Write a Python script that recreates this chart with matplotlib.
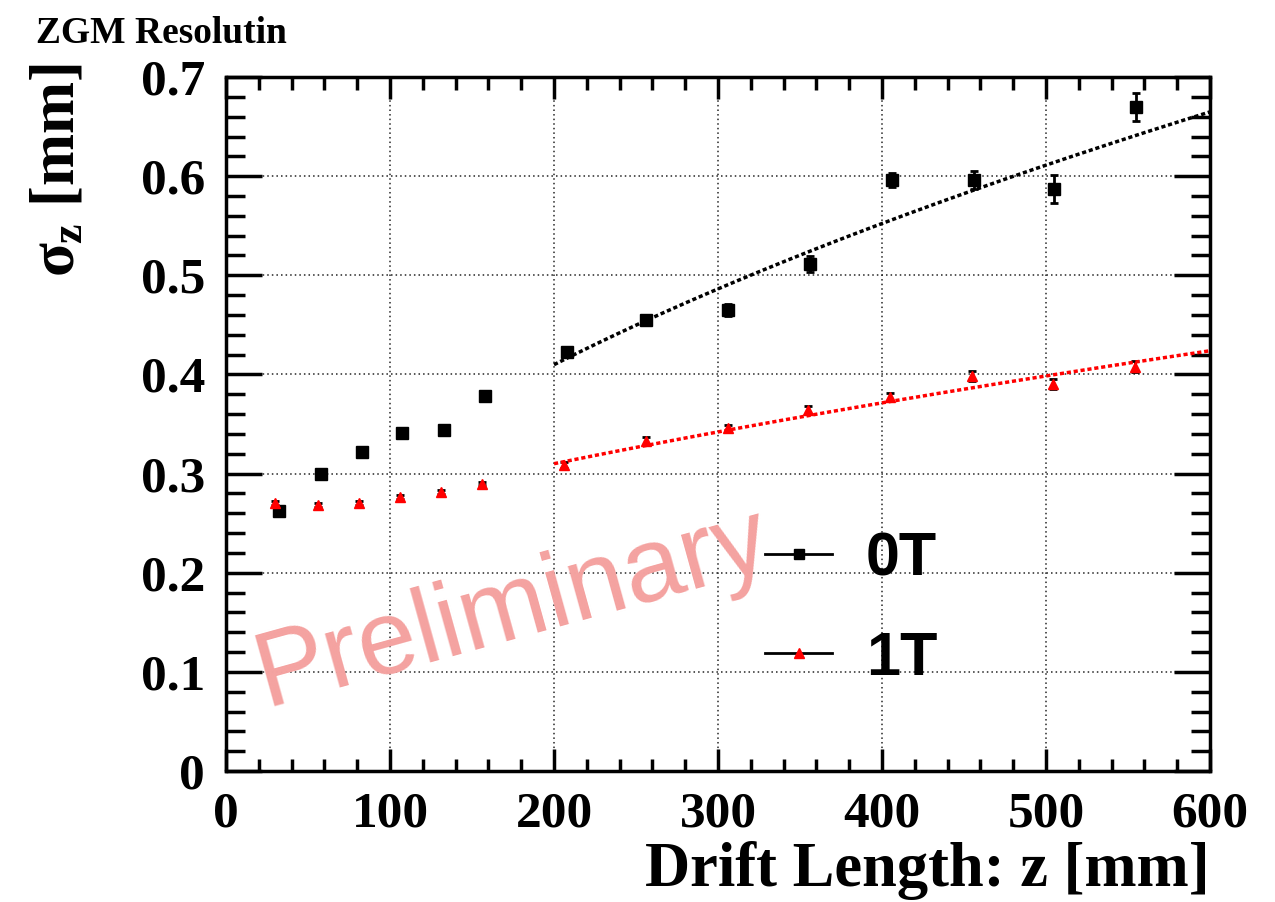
import numpy as np
import matplotlib
matplotlib.use("Agg")
import matplotlib.pyplot as plt
from matplotlib.lines import Line2D
from matplotlib.ticker import MultipleLocator

plt.rcParams['font.family'] = ['Liberation Serif', 'DejaVu Serif']
plt.rcParams['font.weight'] = 'bold'
plt.rcParams['mathtext.fontset'] = 'custom'
plt.rcParams['mathtext.rm'] = 'Liberation Serif:bold'
plt.rcParams['mathtext.it'] = 'Liberation Serif:bold'
plt.rcParams['mathtext.bf'] = 'Liberation Serif:bold'

# 0T (no field)
z_0T = [32, 58, 83, 107, 133, 158, 208, 256, 306, 356, 406, 456, 505, 555]
sig_0T = [0.262, 0.300, 0.322, 0.341, 0.344, 0.378, 0.423, 0.455, 0.465,
          0.511, 0.596, 0.596, 0.587, 0.670]
err_0T = [0.002, 0.002, 0.002, 0.002, 0.002, 0.003, 0.005, 0.005, 0.006,
          0.008, 0.007, 0.009, 0.014, 0.014]

# 1T
z_1T = [30, 56, 81, 106, 131, 156, 206, 256, 306, 355, 405, 455, 504, 554]
sig_1T = [0.270, 0.268, 0.270, 0.276, 0.281, 0.290, 0.309, 0.333, 0.346,
          0.364, 0.377, 0.398, 0.390, 0.408]
err_1T = [0.002, 0.002, 0.002, 0.002, 0.002, 0.002, 0.003, 0.004, 0.003,
          0.004, 0.004, 0.005, 0.005, 0.006]

# fit sigma^2 = s0^2 + D^2 * z, range 200-600 mm
fit_0T = (0.031, 6.85e-4)
fit_1T = (0.0543, 2.09e-4)
fit_range = (200, 600)

fig = plt.figure(figsize=(12.75, 9.02), dpi=100)
ax = fig.add_axes([0.1773, 0.1452, 0.7717, 0.7694])

ax.errorbar(z_0T, sig_0T, yerr=err_0T, fmt='s', color='black', ms=8,
            elinewidth=2, capsize=3, capthick=2)
ax.errorbar(z_1T, sig_1T, yerr=err_1T, fmt='^', color='red', ms=7,
            elinewidth=2, capsize=3, capthick=2, ecolor='black')

zz = np.linspace(fit_range[0], fit_range[1], 200)
ax.plot(zz, np.sqrt(fit_0T[0] + fit_0T[1] * zz), color='black', lw=2.5,
        ls=(0, (1.2, 0.8)))
ax.plot(zz, np.sqrt(fit_1T[0] + fit_1T[1] * zz), color='red', lw=2.5,
        ls=(0, (1.2, 0.8)))

ax.set_xlim(0, 600)
ax.set_ylim(0, 0.7)
ax.xaxis.set_major_locator(MultipleLocator(100))
ax.xaxis.set_minor_locator(MultipleLocator(20))
ax.yaxis.set_major_locator(MultipleLocator(0.1))
ax.yaxis.set_minor_locator(MultipleLocator(0.02))
ax.yaxis.set_major_formatter(matplotlib.ticker.FuncFormatter(
    lambda v, p: '0' if abs(v) < 1e-9 else '%.1f' % v))

ax.grid(True, which='major', color='0.15', ls=(0, (1, 2)), lw=1.1)
ax.tick_params(which='both', direction='in', top=True, right=True,
               labelsize=37, width=2.5)
ax.tick_params(axis='x', which='major', length=16, pad=15)
ax.tick_params(axis='x', which='minor', length=9)
ax.tick_params(axis='y', which='major', length=26, pad=15)
ax.tick_params(axis='y', which='minor', length=14)
for s in ax.spines.values():
    s.set_linewidth(2.5)

ax.set_xlabel('Drift Length: z [mm]', fontsize=45, fontweight='bold',
              loc='right', labelpad=2)
ax.set_ylabel(r'$\sigma_z$ [mm]', fontsize=45, fontweight='bold', loc='top')
ax.yaxis.set_label_coords(-0.14, 1.02)

fig.text(0.028, 0.982, 'ZGM Resolutin', fontsize=27, fontweight='bold',
         va='top', ha='left')

ax.text(24, 0.066, 'Preliminary', family=['Liberation Sans', 'DejaVu Sans'],
        fontweight='normal', fontsize=76, color='#f4a2a0', rotation=15.5,
        rotation_mode='anchor', ha='left', va='baseline', zorder=5)

handles = [Line2D([], [], color='black', lw=2, marker='s', ms=7,
                  mfc='black', mec='black'),
           Line2D([], [], color='black', lw=2, marker='^', ms=7,
                  mfc='red', mec='red')]
leg = ax.legend(handles, ['0T', '1T'], loc='upper left',
                bbox_to_anchor=(0.492, 0.425), frameon=False,
                prop={'family': ['Liberation Sans', 'DejaVu Sans'],
                      'weight': 'bold', 'size': 44},
                handlelength=1.1, handletextpad=0.55, labelspacing=0.7)

fig.savefig('out.png', dpi=100)
